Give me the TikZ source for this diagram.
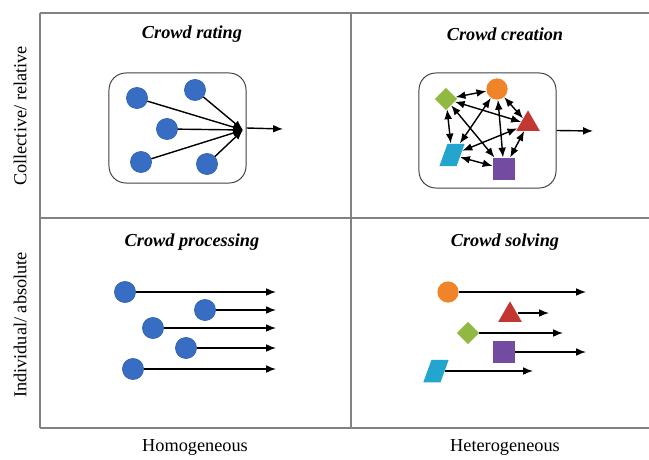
\documentclass[tikz,border=0pt]{standalone}
\usepackage{fontspec}
\setmainfont{Liberation Serif}
\usepackage{xcolor}
\usepackage{tikz}
\usetikzlibrary{arrows.meta,shapes.geometric,positioning}
\definecolor{dotblue}{RGB}{55,110,195}
\definecolor{corange}{RGB}{240,132,40}
\definecolor{cgreen}{RGB}{145,185,65}
\definecolor{cred}{RGB}{195,55,50}
\definecolor{cviolet}{RGB}{115,75,160}
\definecolor{ccyan}{RGB}{35,165,205}
\definecolor{gridgray}{RGB}{130,130,130}

\begin{document}
\begin{tikzpicture}[
  x=0.025cm, y=-0.025cm,
  >={Latex[length=7pt,width=5.5pt]},
  gridline/.style = {draw=gridgray, line width=1pt},
  title/.style    = {font=\fontsize{13}{15}\selectfont\bfseries\itshape},
  axis/.style     = {font=\fontsize{13}{15}\selectfont},
  group/.style    = {draw=black!75, rounded corners=12pt, line width=0.7pt},
  dot/.style      = {circle, fill=dotblue, draw=dotblue!85!black, inner sep=0pt, minimum size=0.53cm},
  orb/.style      = {circle, fill=corange, inner sep=0pt, minimum size=0.53cm},
  gem/.style      = {diamond, fill=cgreen, inner sep=0pt, minimum width=0.56cm, minimum height=0.56cm},
  tri/.style      = {regular polygon, regular polygon sides=3, fill=cred, inner sep=0pt, minimum size=0.68cm},
  sq/.style       = {rectangle, fill=cviolet, inner sep=0pt, minimum size=0.56cm},
  para/.style     = {trapezium, trapezium left angle=70, trapezium right angle=110, fill=ccyan,
                     inner xsep=3.2pt, inner ysep=8pt},
  link/.style     = {<->, line width=1pt},
  flow/.style     = {->, line width=1pt}
]
\useasboundingbox (0,0) rectangle (649,459);

% quadrant frame
\draw[gridline] (40,13) -- (649,13);
\draw[gridline] (40,218) -- (649,218);
\draw[gridline] (40,428) -- (649,428);
\draw[gridline] (40,13) -- (40,428);
\draw[gridline] (351,13) -- (351,428);

\node[axis, rotate=90] (collab) at (20,116) {Collective/ relative};
\node[axis, rotate=90] (indlab) at (20,325) {Individual/ absolute};
\node[axis] (homlab) at (195,447) {Homogeneous};
\node[axis] (hetlab) at (505,447) {Heterogeneous};

\node[title] (rating) at (192,34) {Crowd rating};
\node[title] (creation) at (505,34) {Crowd creation};
\node[title] (processing) at (192,242) {Crowd processing};
\node[title] (solving) at (505,242) {Crowd solving};

% crowd rating
\node[group, minimum width=3.425cm, minimum height=2.75cm] (ratebox) at (177.5,128) {};
\node[dot] (r1) at (137,98) {};
\node[dot] (r2) at (195,90) {};
\node[dot] (r3) at (167,129) {};
\node[dot] (r4) at (141,162) {};
\node[dot] (r5) at (207,164) {};
\coordinate (hub) at (243,130);
\coordinate (rateout) at (283,129);
\draw[flow] (r1) -- (hub);
\draw[flow] (r2) -- (hub);
\draw[flow] (r3) -- (hub);
\draw[flow] (r4) -- (hub);
\draw[flow] (r5) -- (hub);
\draw[flow] (ratebox.east) -- (rateout);

% crowd creation
\node[group, minimum width=3.425cm, minimum height=2.875cm] (createbox) at (487.5,130.5) {};
\node[orb] (co) at (497,89) {};
\node[gem] (cg) at (446,99) {};
\node[tri] (ct) at (528,124) {};
\node[para] (cp) at (452,155) {};
\node[sq] (cs) at (504,169) {};
\coordinate (createout) at (593,131);
\draw[link] (cg) -- (co);
\draw[link] (cg) -- (ct);
\draw[link] (cg) -- (cs);
\draw[link] (cg) -- (cp);
\draw[link] (co) -- (ct);
\draw[link] (co) -- (cs);
\draw[link] (co) -- (cp);
\draw[link] (ct) -- (cp);
\draw[link] (ct) -- (cs);
\draw[link] (cp) -- (cs);
\draw[flow] (createbox.east) -- (createout);

% crowd processing
\node[dot] (p1) at (125,292) {};
\node[dot] (p2) at (205,310) {};
\node[dot] (p3) at (153,328) {};
\node[dot] (p4) at (186,348) {};
\node[dot] (p5) at (133,369) {};
\coordinate (p1end) at (276,292);
\coordinate (p2end) at (276,310);
\coordinate (p3end) at (276,328);
\coordinate (p4end) at (276,348);
\coordinate (p5end) at (276,369);
\draw[flow] (p1) -- (p1end);
\draw[flow] (p2) -- (p2end);
\draw[flow] (p3) -- (p3end);
\draw[flow] (p4) -- (p4end);
\draw[flow] (p5) -- (p5end);

% crowd solving
\node[orb] (so) at (448,292) {};
\node[tri] (st) at (510,315) {};
\node[gem] (sg) at (468,333) {};
\node[sq] (ss) at (504,352) {};
\node[para] (sp) at (436,371) {};
\coordinate (soend) at (586,292);
\coordinate (stend) at (549,313);
\coordinate (sgend) at (563,333);
\coordinate (ssend) at (586,352);
\coordinate (spend) at (533,371);
\draw[flow] (so) -- (soend);
\draw[flow] (st.east |- stend) -- (stend);
\draw[flow] (sg) -- (sgend);
\draw[flow] (ss) -- (ssend);
\draw[flow] (sp) -- (spend);
\end{tikzpicture}
\end{document}
